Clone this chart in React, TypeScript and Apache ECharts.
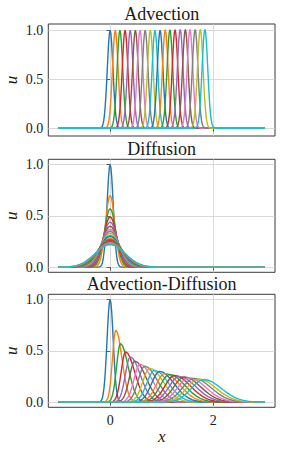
import React, { useEffect, useRef } from "react";
import * as echarts from "echarts";

// ---- data ----
const panelTitles = ["Advection", "Diffusion", "Advection-Diffusion"];
const xTicks = [0, 2];
const yTicks = [0, 0.5, 1.0];
const xRange = [-1, 3];

// normalized pulse profile sampled every 0.25 widths from the peak outwards
const pulseShape = [1, 0.9692, 0.8825, 0.7548, 0.6065, 0.4578, 0.3247, 0.2163, 0.1353, 0.0796, 0.0439, 0.0228, 0.0111, 0.0051, 0.0022, 0.0009, 0.0003];
const shapeStep = 0.25;

// Advection: 20 pulses of equal height moving right
const advCenters = [0, 0.1, 0.19, 0.29, 0.39, 0.49, 0.58, 0.68, 0.78, 0.87, 0.97, 1.07, 1.16, 1.26, 1.36, 1.46, 1.55, 1.65, 1.75, 1.84];
const advHeights = [1, 1, 1, 1, 1, 1, 1, 1, 1, 1, 1, 1.005, 1.005, 1.005, 1.01, 1.01, 1.01, 1.01, 1.01, 1.01];
const advWidths = [0.055, 0.055, 0.055, 0.055, 0.055, 0.055, 0.055, 0.055, 0.055, 0.055, 0.055, 0.055, 0.055, 0.055, 0.055, 0.055, 0.055, 0.055, 0.055, 0.055];

// Diffusion: 20 spreading pulses centred at 0
const difHeights = [1.0, 0.7, 0.57, 0.49, 0.44, 0.4, 0.37, 0.35, 0.33, 0.31, 0.3, 0.28, 0.27, 0.26, 0.25, 0.245, 0.238, 0.231, 0.225, 0.22];
const difWidths = [0.06, 0.09, 0.11, 0.128, 0.143, 0.157, 0.17, 0.18, 0.19, 0.203, 0.21, 0.225, 0.233, 0.242, 0.252, 0.257, 0.265, 0.273, 0.28, 0.286];

// Advection-Diffusion: 20 skewed, spreading pulses moving right
const adPeaks = [0, 0.11, 0.2, 0.3, 0.39, 0.48, 0.58, 0.67, 0.77, 0.86, 0.96, 1.06, 1.15, 1.25, 1.34, 1.44, 1.53, 1.63, 1.72, 1.82];
const adHeights = [1.0, 0.7, 0.57, 0.49, 0.44, 0.4, 0.37, 0.35, 0.33, 0.31, 0.3, 0.28, 0.27, 0.26, 0.25, 0.245, 0.238, 0.231, 0.225, 0.22];
const adLeftWidths = [0.06, 0.065, 0.075, 0.085, 0.095, 0.105, 0.115, 0.125, 0.135, 0.145, 0.155, 0.165, 0.175, 0.185, 0.195, 0.205, 0.215, 0.225, 0.235, 0.245];
const adRightWidths = [0.06, 0.12, 0.15, 0.175, 0.195, 0.215, 0.23, 0.245, 0.26, 0.27, 0.28, 0.29, 0.3, 0.31, 0.32, 0.32, 0.325, 0.33, 0.335, 0.34];

const COLORS = ["#1f77b4", "#ff7f0e", "#2ca02c", "#d62728", "#9467bd", "#8c564b", "#e377c2", "#7f7f7f", "#bcbd22", "#17becf"];

const FONT = '"Liberation Serif", "DejaVu Serif", serif';

function pulsePoints(center: number, height: number, wl: number, wr: number): number[][] {
  const pts: number[][] = [[xRange[0], 0]];
  for (let k = pulseShape.length - 1; k >= 1; k--) {
    pts.push([center - k * shapeStep * wl, height * pulseShape[k]]);
  }
  pts.push([center, height]);
  for (let k = 1; k < pulseShape.length; k++) {
    pts.push([center + k * shapeStep * wr, height * pulseShape[k]]);
  }
  pts.push([xRange[1], 0]);
  return pts.filter((p) => p[0] >= xRange[0] && p[0] <= xRange[1]);
}

const grids = [
  { top: 24, height: 112, yMin: -0.079, yMax: 1.064 },
  { top: 159.3, height: 113, yMin: -0.05, yMax: 1.05 },
  { top: 294.3, height: 113, yMin: -0.05, yMax: 1.05 },
];
const LEFT = 48.3;
const RIGHT = 275;

export default function App() {
  const ref = useRef<HTMLDivElement>(null);
  useEffect(() => {
    if (!ref.current) return;
    const chart = echarts.init(ref.current, undefined, { renderer: "svg" });

    const series: any[] = [];
    const addSeries = (gi: number, pts: number[][], idx: number) => {
      series.push({
        type: "line",
        xAxisIndex: gi,
        yAxisIndex: gi,
        data: pts,
        showSymbol: false,
        symbol: "none",
        smooth: false,
        lineStyle: { width: 1.4, color: COLORS[idx % 10] },
        itemStyle: { color: COLORS[idx % 10] },
        silent: true,
      });
    };
    advCenters.forEach((c, i) => addSeries(0, pulsePoints(c, advHeights[i], advWidths[i], advWidths[i]), i));
    difHeights.forEach((h, i) => addSeries(1, pulsePoints(0, h, difWidths[i], difWidths[i]), i));
    adPeaks.forEach((c, i) => addSeries(2, pulsePoints(c, adHeights[i], adLeftWidths[i], adRightWidths[i]), i));

    const gridOpts = grids.map((g) => ({
      left: LEFT,
      width: RIGHT - LEFT,
      top: g.top,
      height: g.height,
      show: true,
      borderColor: "#3a3a3a",
      borderWidth: 1,
      backgroundColor: "transparent",
      containLabel: false,
    }));

    const xAxes = grids.map((g, i) => ({
      type: "value",
      gridIndex: i,
      min: -1.2,
      max: 3.2,
      axisLine: { show: false },
      axisTick: { show: true, customValues: xTicks, length: 3.5, lineStyle: { color: "#3a3a3a", width: 0.8 } },
      axisLabel: {
        show: i === 2,
        customValues: xTicks,
        fontFamily: FONT,
        fontSize: 14,
        color: "#1a1a1a",
        margin: 6,
        formatter: (v: number) => String(v),
      },
      splitLine: { show: true, lineStyle: { color: "#d0d0d0", width: 0.8 } },
    }));

    const yAxes = grids.map((g, i) => ({
      type: "value",
      gridIndex: i,
      min: g.yMin,
      max: g.yMax,
      axisLine: { show: false },
      axisTick: { show: true, customValues: yTicks, length: 3.5, lineStyle: { color: "#3a3a3a", width: 0.8 } },
      axisLabel: {
        show: true,
        customValues: yTicks,
        fontFamily: FONT,
        fontSize: 14,
        color: "#1a1a1a",
        margin: 5,
        formatter: (v: number) => v.toFixed(1),
      },
      splitLine: { show: true, lineStyle: { color: "#d0d0d0", width: 0.8 } },
    }));

    const midX = (LEFT + RIGHT) / 2;
    const titleBaselines = [20, 155, 290];
    const graphics: any[] = [];
    panelTitles.forEach((t, i) => {
      graphics.push({
        type: "text",
        x: midX,
        y: titleBaselines[i] - 6.1,
        silent: true,
        style: { text: t, fontFamily: FONT, fontSize: 18, fill: "#1a1a1a", align: "center", verticalAlign: "middle" },
      });
      graphics.push({
        type: "text",
        x: 11.4,
        y: grids[i].top + grids[i].height / 2,
        rotation: Math.PI / 2,
        silent: true,
        style: { text: "u", fontFamily: FONT, fontStyle: "italic", fontSize: 17, fill: "#1a1a1a", align: "center", verticalAlign: "middle" },
      });
    });
    graphics.push({
      type: "text",
      x: midX,
      y: 436.4,
      silent: true,
      style: { text: "x", fontFamily: FONT, fontStyle: "italic", fontSize: 17, fill: "#1a1a1a", align: "center", verticalAlign: "middle" },
    });

    chart.setOption({
      animation: false,
      backgroundColor: "#ffffff",
      grid: gridOpts,
      xAxis: xAxes,
      yAxis: yAxes,
      series,
      graphic: graphics,
    });
    return () => chart.dispose();
  }, []);

  return <div ref={ref} style={{ position: "fixed", left: 0, top: 0, width: 281, height: 451 }} />;
}
